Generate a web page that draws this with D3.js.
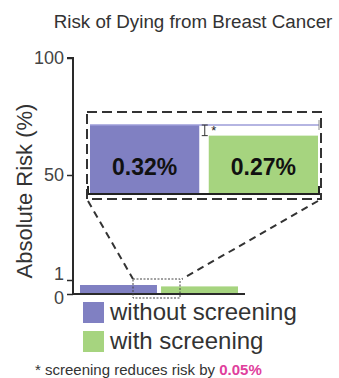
<!DOCTYPE html>
<html><head><meta charset="utf-8">
<script src="https://cdn.jsdelivr.net/npm/d3@7"></script>
<style>
html,body{margin:0;padding:0;background:#fff;}
svg{display:block;font-family:"Liberation Sans",Arial,Helvetica,sans-serif;}
</style></head>
<body><svg id="c" width="339" height="378"></svg>
<script>
// ---- data ----
const categories = ["without screening", "with screening"];
const risks = [0.32, 0.27];           // absolute risk, %
const riskLabels = ["0.32%", "0.27%"];
const reduction = "0.05%";
const yTicks = [0, 1, 50, 100];
const title = "Risk of Dying from Breast Cancer";
const yTitle = "Absolute Risk (%)";
const footnotePrefix = "* screening reduces risk by ";

// ---- styles ----
const colors = ["#8080c2", "#a6d47f"];
const ink = "#2a2a2a";

const svg = d3.select("#c");

// title
svg.append("text").attr("x", 193).attr("y", 28).attr("text-anchor", "middle")
  .attr("font-size", 18.8).attr("fill", "#333").text(title);

// main scales (axis magnified near zero, as in the original)
const y = d3.scaleLinear().domain([0, 0.4, 1, 50, 100]).range([294, 282.75, 280, 175, 58]);
const x = d3.scaleBand().domain(categories).range([80, 238]).paddingInner(0.05).paddingOuter(0);

// axis
const gAxis = svg.append("g").attr("transform", "translate(73,0)")
  .call(d3.axisLeft(y).tickValues(yTicks).tickSize(6).tickPadding(3).tickFormat(d3.format("d")));
gAxis.select(".domain").attr("stroke", ink).attr("stroke-width", 2)
  .attr("d", `M-6,${y(100)}H0V${y(0)}`);
gAxis.selectAll(".tick line").attr("stroke", ink).attr("stroke-width", 1.5);
gAxis.selectAll(".tick text").attr("font-size", 18).attr("fill", "#444")
  .attr("font-family", "Liberation Sans, Arial, sans-serif")
  .attr("dy", d => d === 1 ? "-0.05em" : d === 0 ? "0.55em" : "0.32em");

// y title
svg.append("text").attr("transform", `translate(32,${(y(100)+y(0))/2 + 15}) rotate(-90)`)
  .attr("text-anchor", "middle").attr("font-size", 22).attr("fill", "#333").text(yTitle);

// main bars
svg.selectAll("rect.bar").data(risks).join("rect").attr("class", "bar")
  .attr("x", (d, i) => x(categories[i])).attr("width", x.bandwidth())
  .attr("y", d => y(d)).attr("height", d => y(0) - y(d))
  .attr("fill", (d, i) => colors[i]);

// baseline
svg.append("line").attr("x1", 73).attr("x2", 245).attr("y1", y(0)).attr("y2", y(0))
  .attr("stroke", ink).attr("stroke-width", 2);

// small dotted zoom box
const zb = {x0: 133, x1: 180, y0: y(1) - 1, y1: 298};
svg.append("rect").attr("x", zb.x0).attr("y", zb.y0).attr("width", zb.x1 - zb.x0).attr("height", zb.y1 - zb.y0)
  .attr("fill", "none").attr("stroke", "#444").attr("stroke-width", 1).attr("stroke-dasharray", "2,1.5");

// inset
const ib = {x0: 87, x1: 321, y0: 112, y1: 199};
const xi = d3.scaleBand().domain(categories).range([90, 318]).paddingInner(0.08).paddingOuter(0);
const yi = d3.scaleLinear().domain([0, 0.32]).range([193, 125]);

// connectors
svg.append("line").attr("x1", ib.x0 + 1).attr("y1", ib.y1 + 2).attr("x2", zb.x0).attr("y2", zb.y0)
  .attr("stroke", "#333").attr("stroke-width", 2).attr("stroke-dasharray", "7,5");
svg.append("line").attr("x1", ib.x1 - 3).attr("y1", ib.y1 + 2).attr("x2", zb.x1 + 2).attr("y2", zb.y0)
  .attr("stroke", "#333").attr("stroke-width", 2).attr("stroke-dasharray", "7,5");

// inset bars
svg.selectAll("rect.ibar").data(risks).join("rect").attr("class", "ibar")
  .attr("x", (d, i) => xi(categories[i])).attr("width", xi.bandwidth())
  .attr("y", d => yi(d)).attr("height", d => yi(0) - yi(d))
  .attr("fill", (d, i) => colors[i]);

// light reference line at top of first bar
svg.append("line").attr("x1", xi(categories[0])).attr("x2", ib.x1 - 2)
  .attr("y1", yi(risks[0])).attr("y2", yi(risks[0])).attr("stroke", "#9c9cd8").attr("stroke-width", 1.5);
svg.append("line").attr("x1", ib.x1 - 2).attr("x2", ib.x1 - 2)
  .attr("y1", yi(risks[0]) - 5).attr("y2", yi(risks[0]) + 5).attr("stroke", "#888").attr("stroke-width", 1);

// difference bracket
const bx = xi(categories[1]) - 4;
svg.append("path").attr("d", `M${bx-3},${yi(risks[0])}H${bx+3}M${bx},${yi(risks[0])}V${yi(risks[1])}M${bx-3},${yi(risks[1])}H${bx+3}`)
  .attr("stroke", "#333").attr("stroke-width", 1).attr("fill", "none");
svg.append("text").attr("x", bx + 9).attr("y", yi(risks[0]) + 10).attr("text-anchor", "middle")
  .attr("font-size", 13).attr("fill", "#222").text("*");

// inset value labels
svg.selectAll("text.val").data(riskLabels).join("text").attr("class", "val")
  .attr("x", (d, i) => xi(categories[i]) + xi.bandwidth() / 2)
  .attr("y", 175).attr("text-anchor", "middle").attr("font-size", 23).attr("font-weight", "bold")
  .attr("fill", "#111").text(d => d);

// inset baseline with caps
svg.append("path").attr("d", `M${ib.x0+1},${yi(0)-7}V${yi(0)+1}H${ib.x1-2}V${yi(0)-7}`)
  .attr("stroke", "#222").attr("stroke-width", 2).attr("fill", "none");

// inset dashed frame
svg.append("rect").attr("x", ib.x0).attr("y", ib.y0).attr("width", ib.x1 - ib.x0).attr("height", ib.y1 - ib.y0)
  .attr("fill", "none").attr("stroke", "#333").attr("stroke-width", 2).attr("stroke-dasharray", "10,5");

// legend
const lg = svg.append("g");
categories.forEach((c, i) => {
  const yy = 302 + i * 29;
  lg.append("rect").attr("x", 83).attr("y", yy).attr("width", 21).attr("height", 21).attr("fill", colors[i]);
  lg.append("text").attr("x", 110).attr("y", yy + 18).attr("font-size", 24).attr("fill", "#333").text(c);
});

// footnote
const fn = svg.append("text").attr("x", 35).attr("y", 375).attr("font-size", 15).attr("fill", "#333");
fn.append("tspan").text(footnotePrefix);
fn.append("tspan").attr("fill", "#e0409c").attr("font-weight", "bold").text(reduction);
</script></body></html>
